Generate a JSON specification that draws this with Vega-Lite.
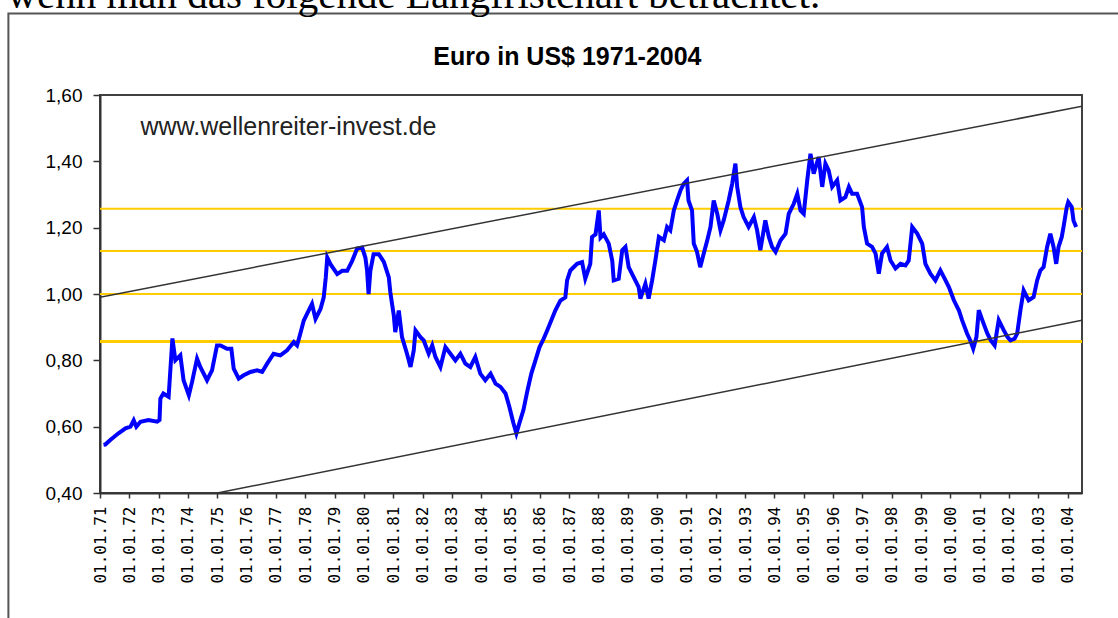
{
  "$schema": "https://vega.github.io/schema/vega-lite/v6.json",
  "width": 982,
  "height": 398,
  "autosize": {"type": "none"},
  "padding": {"left": 100, "top": 95, "right": 36, "bottom": 125},
  "background": "#ffffff",
  "config": {
    "view": {"stroke": "#404040", "strokeWidth": 2},
    "font": "Liberation Sans",
    "axisX": {"labelOverlap": false, "labelFlush": false},
    "axisY": {"labelOverlap": false, "labelFlush": false}
  },
  "datasets": {
    "euro": [
      {"year": 1971.12, "usd": 0.545}, {"year": 1971.18, "usd": 0.546}, {"year": 1971.35, "usd": 0.56}, {"year": 1971.63, "usd": 0.58},
      {"year": 1971.87, "usd": 0.595}, {"year": 1972.04, "usd": 0.60}, {"year": 1972.15, "usd": 0.619}, {"year": 1972.24, "usd": 0.60},
      {"year": 1972.38, "usd": 0.615}, {"year": 1972.65, "usd": 0.62}, {"year": 1972.95, "usd": 0.615}, {"year": 1973.03, "usd": 0.62},
      {"year": 1973.06, "usd": 0.685}, {"year": 1973.16, "usd": 0.70}, {"year": 1973.34, "usd": 0.69}, {"year": 1973.47, "usd": 0.866},
      {"year": 1973.57, "usd": 0.80}, {"year": 1973.74, "usd": 0.815}, {"year": 1973.85, "usd": 0.74}, {"year": 1974.03, "usd": 0.695},
      {"year": 1974.14, "usd": 0.735}, {"year": 1974.31, "usd": 0.805}, {"year": 1974.42, "usd": 0.78}, {"year": 1974.65, "usd": 0.74},
      {"year": 1974.82, "usd": 0.77}, {"year": 1974.99, "usd": 0.845}, {"year": 1975.11, "usd": 0.845}, {"year": 1975.33, "usd": 0.835},
      {"year": 1975.48, "usd": 0.835}, {"year": 1975.56, "usd": 0.775}, {"year": 1975.73, "usd": 0.745}, {"year": 1975.90, "usd": 0.755},
      {"year": 1976.13, "usd": 0.765}, {"year": 1976.36, "usd": 0.77}, {"year": 1976.53, "usd": 0.765}, {"year": 1976.70, "usd": 0.79},
      {"year": 1976.92, "usd": 0.82}, {"year": 1977.15, "usd": 0.815}, {"year": 1977.38, "usd": 0.83}, {"year": 1977.61, "usd": 0.855},
      {"year": 1977.72, "usd": 0.845}, {"year": 1977.83, "usd": 0.88}, {"year": 1977.95, "usd": 0.92}, {"year": 1978.06, "usd": 0.94},
      {"year": 1978.23, "usd": 0.97}, {"year": 1978.35, "usd": 0.925}, {"year": 1978.52, "usd": 0.955}, {"year": 1978.63, "usd": 0.99},
      {"year": 1978.70, "usd": 1.05}, {"year": 1978.75, "usd": 1.11}, {"year": 1978.86, "usd": 1.09}, {"year": 1979.09, "usd": 1.06},
      {"year": 1979.26, "usd": 1.07}, {"year": 1979.43, "usd": 1.07}, {"year": 1979.60, "usd": 1.10}, {"year": 1979.77, "usd": 1.137},
      {"year": 1979.94, "usd": 1.14}, {"year": 1980.05, "usd": 1.11}, {"year": 1980.11, "usd": 1.07}, {"year": 1980.16, "usd": 1.00},
      {"year": 1980.22, "usd": 1.07}, {"year": 1980.33, "usd": 1.12}, {"year": 1980.51, "usd": 1.12}, {"year": 1980.68, "usd": 1.097},
      {"year": 1980.85, "usd": 1.05}, {"year": 1980.90, "usd": 1.006}, {"year": 1980.96, "usd": 0.97}, {"year": 1981.02, "usd": 0.935},
      {"year": 1981.07, "usd": 0.885}, {"year": 1981.19, "usd": 0.95}, {"year": 1981.30, "usd": 0.87}, {"year": 1981.47, "usd": 0.82},
      {"year": 1981.59, "usd": 0.78}, {"year": 1981.70, "usd": 0.83}, {"year": 1981.76, "usd": 0.89}, {"year": 1981.93, "usd": 0.87},
      {"year": 1982.04, "usd": 0.86}, {"year": 1982.21, "usd": 0.82}, {"year": 1982.33, "usd": 0.845}, {"year": 1982.44, "usd": 0.81},
      {"year": 1982.61, "usd": 0.78}, {"year": 1982.78, "usd": 0.84}, {"year": 1982.95, "usd": 0.82}, {"year": 1983.12, "usd": 0.80},
      {"year": 1983.29, "usd": 0.82}, {"year": 1983.46, "usd": 0.79}, {"year": 1983.63, "usd": 0.78}, {"year": 1983.80, "usd": 0.81},
      {"year": 1983.97, "usd": 0.76}, {"year": 1984.14, "usd": 0.74}, {"year": 1984.32, "usd": 0.76}, {"year": 1984.49, "usd": 0.73},
      {"year": 1984.66, "usd": 0.72}, {"year": 1984.83, "usd": 0.70}, {"year": 1984.96, "usd": 0.66}, {"year": 1985.10, "usd": 0.61},
      {"year": 1985.20, "usd": 0.58}, {"year": 1985.30, "usd": 0.61}, {"year": 1985.44, "usd": 0.65}, {"year": 1985.58, "usd": 0.71},
      {"year": 1985.71, "usd": 0.76}, {"year": 1985.85, "usd": 0.80}, {"year": 1985.99, "usd": 0.84}, {"year": 1986.13, "usd": 0.865},
      {"year": 1986.25, "usd": 0.89}, {"year": 1986.53, "usd": 0.951}, {"year": 1986.70, "usd": 0.98}, {"year": 1986.87, "usd": 0.99},
      {"year": 1986.93, "usd": 1.041}, {"year": 1987.04, "usd": 1.071}, {"year": 1987.27, "usd": 1.091}, {"year": 1987.44, "usd": 1.096},
      {"year": 1987.55, "usd": 1.046}, {"year": 1987.72, "usd": 1.091}, {"year": 1987.78, "usd": 1.172}, {"year": 1987.90, "usd": 1.18},
      {"year": 1988.01, "usd": 1.252}, {"year": 1988.07, "usd": 1.17}, {"year": 1988.18, "usd": 1.18}, {"year": 1988.35, "usd": 1.152},
      {"year": 1988.47, "usd": 1.10}, {"year": 1988.52, "usd": 1.041}, {"year": 1988.69, "usd": 1.046}, {"year": 1988.81, "usd": 1.132},
      {"year": 1988.92, "usd": 1.142}, {"year": 1989.03, "usd": 1.081}, {"year": 1989.20, "usd": 1.051}, {"year": 1989.37, "usd": 1.021},
      {"year": 1989.43, "usd": 0.986}, {"year": 1989.60, "usd": 1.031}, {"year": 1989.71, "usd": 0.986}, {"year": 1989.83, "usd": 1.041},
      {"year": 1989.94, "usd": 1.101}, {"year": 1990.06, "usd": 1.172}, {"year": 1990.23, "usd": 1.162}, {"year": 1990.34, "usd": 1.202},
      {"year": 1990.45, "usd": 1.192}, {"year": 1990.57, "usd": 1.252}, {"year": 1990.68, "usd": 1.282}, {"year": 1990.80, "usd": 1.313},
      {"year": 1990.91, "usd": 1.333}, {"year": 1991.02, "usd": 1.343}, {"year": 1991.07, "usd": 1.282}, {"year": 1991.19, "usd": 1.252},
      {"year": 1991.25, "usd": 1.152}, {"year": 1991.36, "usd": 1.127}, {"year": 1991.47, "usd": 1.081}, {"year": 1991.59, "usd": 1.122},
      {"year": 1991.71, "usd": 1.162}, {"year": 1991.82, "usd": 1.202}, {"year": 1991.93, "usd": 1.282}, {"year": 1992.05, "usd": 1.242},
      {"year": 1992.16, "usd": 1.192}, {"year": 1992.27, "usd": 1.222}, {"year": 1992.44, "usd": 1.282}, {"year": 1992.56, "usd": 1.333},
      {"year": 1992.67, "usd": 1.393}, {"year": 1992.73, "usd": 1.323}, {"year": 1992.84, "usd": 1.262}, {"year": 1992.95, "usd": 1.232},
      {"year": 1993.12, "usd": 1.202}, {"year": 1993.30, "usd": 1.232}, {"year": 1993.41, "usd": 1.192}, {"year": 1993.52, "usd": 1.132},
      {"year": 1993.69, "usd": 1.222}, {"year": 1993.81, "usd": 1.172}, {"year": 1993.92, "usd": 1.142}, {"year": 1994.04, "usd": 1.127},
      {"year": 1994.21, "usd": 1.162}, {"year": 1994.38, "usd": 1.182}, {"year": 1994.49, "usd": 1.242}, {"year": 1994.66, "usd": 1.272},
      {"year": 1994.78, "usd": 1.302}, {"year": 1994.89, "usd": 1.252}, {"year": 1995.00, "usd": 1.242}, {"year": 1995.12, "usd": 1.343},
      {"year": 1995.23, "usd": 1.423}, {"year": 1995.34, "usd": 1.363}, {"year": 1995.51, "usd": 1.413}, {"year": 1995.63, "usd": 1.323},
      {"year": 1995.74, "usd": 1.393}, {"year": 1995.85, "usd": 1.373}, {"year": 1995.97, "usd": 1.323}, {"year": 1996.14, "usd": 1.343},
      {"year": 1996.25, "usd": 1.282}, {"year": 1996.42, "usd": 1.292}, {"year": 1996.54, "usd": 1.323}, {"year": 1996.65, "usd": 1.302},
      {"year": 1996.82, "usd": 1.302}, {"year": 1996.99, "usd": 1.262}, {"year": 1997.05, "usd": 1.202}, {"year": 1997.16, "usd": 1.152},
      {"year": 1997.33, "usd": 1.142}, {"year": 1997.45, "usd": 1.122}, {"year": 1997.56, "usd": 1.061}, {"year": 1997.67, "usd": 1.122},
      {"year": 1997.84, "usd": 1.142}, {"year": 1997.96, "usd": 1.101}, {"year": 1998.13, "usd": 1.077}, {"year": 1998.30, "usd": 1.091},
      {"year": 1998.47, "usd": 1.086}, {"year": 1998.58, "usd": 1.101}, {"year": 1998.70, "usd": 1.202}, {"year": 1998.87, "usd": 1.182},
      {"year": 1999.04, "usd": 1.152}, {"year": 1999.15, "usd": 1.091}, {"year": 1999.32, "usd": 1.061}, {"year": 1999.49, "usd": 1.041},
      {"year": 1999.66, "usd": 1.071}, {"year": 1999.78, "usd": 1.051}, {"year": 1999.95, "usd": 1.021}, {"year": 2000.12, "usd": 0.981},
      {"year": 2000.29, "usd": 0.951}, {"year": 2000.40, "usd": 0.921}, {"year": 2000.57, "usd": 0.881}, {"year": 2000.68, "usd": 0.86},
      {"year": 2000.78, "usd": 0.835}, {"year": 2000.89, "usd": 0.87}, {"year": 2000.97, "usd": 0.951}, {"year": 2001.09, "usd": 0.921},
      {"year": 2001.26, "usd": 0.881}, {"year": 2001.38, "usd": 0.86}, {"year": 2001.51, "usd": 0.845}, {"year": 2001.65, "usd": 0.921},
      {"year": 2001.82, "usd": 0.891}, {"year": 2001.95, "usd": 0.87}, {"year": 2002.05, "usd": 0.86}, {"year": 2002.19, "usd": 0.865},
      {"year": 2002.28, "usd": 0.881}, {"year": 2002.39, "usd": 0.951}, {"year": 2002.50, "usd": 1.011}, {"year": 2002.67, "usd": 0.981},
      {"year": 2002.84, "usd": 0.991}, {"year": 2002.96, "usd": 1.041}, {"year": 2003.07, "usd": 1.071}, {"year": 2003.18, "usd": 1.081},
      {"year": 2003.30, "usd": 1.142}, {"year": 2003.41, "usd": 1.182}, {"year": 2003.52, "usd": 1.142}, {"year": 2003.61, "usd": 1.091},
      {"year": 2003.69, "usd": 1.142}, {"year": 2003.80, "usd": 1.172}, {"year": 2003.86, "usd": 1.202}, {"year": 2003.97, "usd": 1.262},
      {"year": 2004.02, "usd": 1.277}, {"year": 2004.14, "usd": 1.262}, {"year": 2004.20, "usd": 1.222}, {"year": 2004.29, "usd": 1.202}
    ],
    "channel": [
      {"line": "oben", "year": 1971, "usd": 0.99},
      {"line": "oben", "year": 2004.49, "usd": 1.566},
      {"line": "unten", "year": 1975, "usd": 0.40},
      {"line": "unten", "year": 2004.49, "usd": 0.921}
    ],
    "levels": [
      {"level": 1.257}, {"level": 1.13}, {"level": 1.0}, {"level": 0.857}
    ],
    "texts": [
      {"kind": "note", "label": "www.wellenreiter-invest.de"}
    ]
  },
  "layer": [
    {
      "data": {"values": [{"frame": "chart"}]},
      "mark": {"type": "rect", "fill": null, "stroke": "#555555", "strokeWidth": 2, "clip": false},
      "encoding": {
        "x": {
          "datum": 1967.876, "type": "quantitative",
          "scale": {"domain": [1971, 2004.49], "nice": false, "zero": false},
          "axis": {
            "values": [1971,1972,1973,1974,1975,1976,1977,1978,1979,1980,1981,1982,1983,1984,1985,1986,1987,1988,1989,1990,1991,1992,1993,1994,1995,1996,1997,1998,1999,2000,2001,2002,2003,2004],
            "tickCount": 60,
            "labelExpr": "'01.01.' + format(datum.value % 100, '02d')",
            "labelAngle": 270,
            "labelFont": "DejaVu Sans Mono",
            "labelFontSize": 16,
            "labelColor": "#000000",
            "labelPadding": 8,
            "labelOverlap": false,
            "labelFlush": false,
            "labelBound": false,
            "tickSize": 5,
            "tickColor": "#333333",
            "tickWidth": 1.5,
            "domainColor": "#333333",
            "domainWidth": 2,
            "grid": false,
            "title": null
          }
        },
        "x2": {"datum": 2006.5},
        "y": {
          "datum": 1.846, "type": "quantitative",
          "scale": {"domain": [0.4, 1.6], "nice": false, "zero": false},
          "axis": {
            "values": [0.4, 0.6, 0.8, 1.0, 1.2, 1.4, 1.6],
            "tickCount": 20,
            "labelExpr": "replace(format(datum.value, '.2f'), '.', ',')",
            "labelFont": "Liberation Sans",
            "labelFontSize": 19,
            "labelColor": "#000000",
            "labelPadding": 11,
            "labelFlush": false,
            "labelOverlap": false,
            "tickSize": 7,
            "tickColor": "#333333",
            "tickWidth": 1.5,
            "domainColor": "#333333",
            "domainWidth": 2,
            "grid": false,
            "title": null
          }
        },
        "y2": {"datum": -0.1}
      }
    },
    {
      "data": {"name": "levels"},
      "mark": {"type": "rule", "color": "#FFCC00"},
      "encoding": {
        "y": {"field": "level", "type": "quantitative"},
        "strokeWidth": {"condition": {"test": "datum.level < 0.9", "value": 3}, "value": 2}
      }
    },
    {
      "data": {"name": "euro"},
      "mark": {"type": "line", "color": "#0000FF", "strokeWidth": 4, "strokeJoin": "miter"},
      "encoding": {
        "x": {"field": "year", "type": "quantitative"},
        "y": {"field": "usd", "type": "quantitative"}
      }
    },
    {
      "data": {"name": "channel"},
      "mark": {"type": "line", "color": "#333333", "strokeWidth": 1.5, "clip": true},
      "encoding": {
        "x": {"field": "year", "type": "quantitative"},
        "y": {"field": "usd", "type": "quantitative"},
        "detail": {"field": "line"}
      }
    },
    {
      "data": {"name": "texts"},
      "mark": {"type": "text", "align": "left", "baseline": "alphabetic", "font": "Liberation Sans", "fontSize": 25, "color": "#222222"},
      "encoding": {
        "x": {"datum": 1972.38, "type": "quantitative"},
        "y": {"datum": 1.478, "type": "quantitative"},
        "text": {"field": "label"}
      }
    },
    {
      "data": {"values": [{"label": "Euro in US$ 1971-2004"}]},
      "mark": {"type": "text", "align": "center", "baseline": "alphabetic", "font": "Liberation Sans", "fontSize": 25, "fontWeight": "bold", "color": "#000000", "clip": false},
      "encoding": {
        "x": {"datum": 1986.94, "type": "quantitative"},
        "y": {"datum": 1.6895, "type": "quantitative"},
        "text": {"field": "label"}
      }
    },
    {
      "data": {"values": [{"label": "wenn man das folgende Langfristchart betrachtet."}]},
      "mark": {"type": "text", "align": "left", "baseline": "alphabetic", "font": "Liberation Serif", "fontSize": 41, "color": "#000000", "clip": false},
      "encoding": {
        "x": {"datum": 1967.84, "type": "quantitative"},
        "y": {"datum": 1.861, "type": "quantitative"},
        "text": {"field": "label"}
      }
    }
  ]
}
